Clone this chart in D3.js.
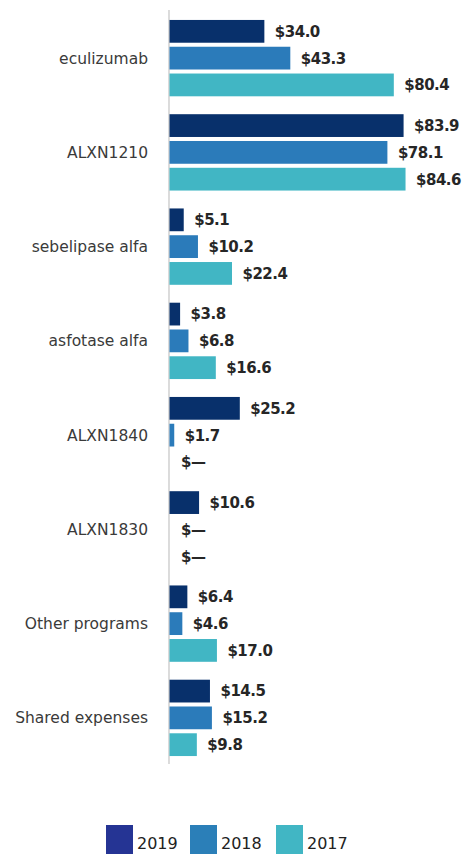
<!DOCTYPE html>
<html>
<head>
<meta charset="utf-8">
<script src="https://cdn.jsdelivr.net/npm/d3@7/dist/d3.min.js"></script>
<style>
  html, body { margin: 0; padding: 0; background: #fff; }
  svg { display: block; }
</style>
</head>
<body>
<svg id="chart" width="465" height="854"></svg>
<script>
// R&D expense by program, $ millions
const programs = ["eculizumab", "ALXN1210", "sebelipase alfa", "asfotase alfa",
                  "ALXN1840", "ALXN1830", "Other programs", "Shared expenses"];
const years = ["2019", "2018", "2017"];
const values2019 = [34.0, 83.9, 5.1, 3.8, 25.2, 10.6, 6.4, 14.5];
const values2018 = [43.3, 78.1, 10.2, 6.8, 1.7, 0, 4.6, 15.2];
const values2017 = [80.4, 84.6, 22.4, 16.6, 0, 0, 17.0, 9.8];
const barColors = ["#08306b", "#2b7bba", "#41b6c4"];
const legendColors = ["#253494", "#2b7fb8", "#41b6c4"];

const series = [values2019, values2018, values2017];
const rows = programs.map((p, i) => ({
  program: p,
  bars: years.map((y, j) => ({ year: y, value: series[j][i], color: barColors[j] }))
}));

const svg = d3.select("#chart");
const x0 = 169;

const x = d3.scaleLinear().domain([0, 100]).range([x0, x0 + 279]);
const y = d3.scaleBand().domain(programs).range([11, 765])
  .paddingInner(0.19).paddingOuter(0.095);
const yInner = d3.scaleBand().domain(years).range([0, y.bandwidth()])
  .paddingInner(0.15);

const fmt = v => v === 0 ? "$\u2014" : "$" + d3.format(".1f")(v);

// baseline
svg.append("line")
  .attr("x1", x0).attr("x2", x0)
  .attr("y1", 10).attr("y2", 764)
  .attr("stroke", "#c4c4c4").attr("stroke-width", 1.2);

const g = svg.selectAll("g.row").data(rows).join("g")
  .attr("class", "row")
  .attr("transform", d => `translate(0,${y(d.program)})`);

// program names
g.append("text")
  .attr("x", x0 - 21)
  .attr("y", y.bandwidth() / 2)
  .attr("dy", "0.35em")
  .attr("text-anchor", "end")
  .attr("font-family", "DejaVu Sans, sans-serif")
  .attr("font-size", 15.5)
  .attr("fill", "#3a3a3a")
  .text(d => d.program);

const bar = g.selectAll("g.bar").data(d => d.bars).join("g").attr("class", "bar");

bar.filter(d => d.value > 0).append("rect")
  .attr("x", x(0) + 0.5)
  .attr("y", d => yInner(d.year))
  .attr("width", d => x(d.value) - x(0))
  .attr("height", yInner.bandwidth())
  .attr("fill", d => d.color);

bar.append("text")
  .attr("x", d => x(d.value) + (d.value > 0 ? 11 : 12))
  .attr("y", d => yInner(d.year) + yInner.bandwidth() / 2)
  .attr("dy", "0.36em")
  .attr("font-family", "DejaVu Sans, sans-serif")
  .attr("font-weight", "bold")
  .attr("font-size", 15)
  .attr("letter-spacing", -0.5)
  .attr("fill", "#262626")
  .text(d => fmt(d.value));

// legend
const legendX = [106, 190, 276];
const lg = svg.selectAll("g.legend").data(years).join("g")
  .attr("class", "legend")
  .attr("transform", (d, i) => `translate(${legendX[i]},825)`);
lg.append("rect").attr("width", 27).attr("height", 30)
  .attr("fill", (d, i) => legendColors[i]);
lg.append("text")
  .attr("x", 31).attr("y", 24)
  .attr("font-family", "DejaVu Sans, sans-serif")
  .attr("font-size", 16)
  .attr("fill", "#222")
  .text(d => d);
</script>
</body>
</html>
